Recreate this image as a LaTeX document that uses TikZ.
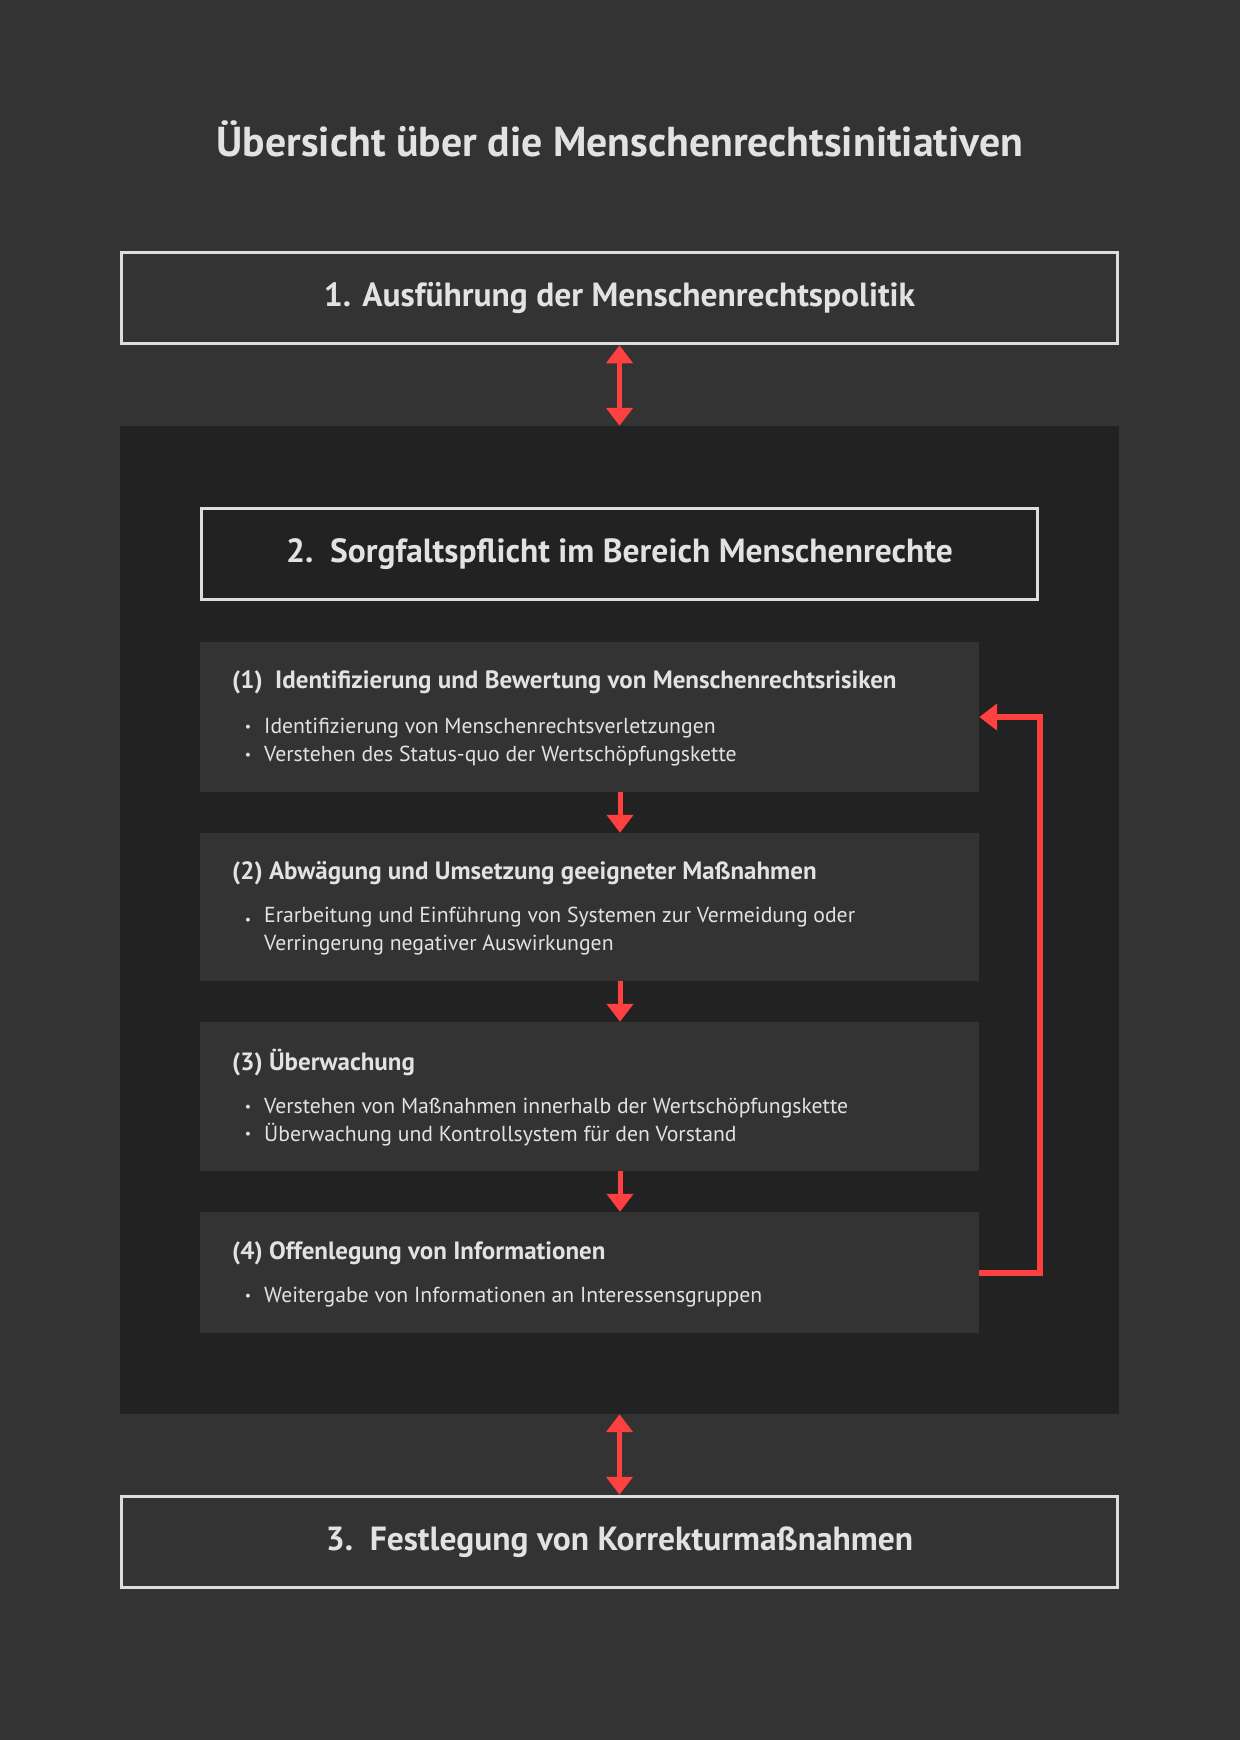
\documentclass[tikz,border=0pt]{standalone}
\usepackage{fontspec}
\setmainfont{PT Sans}
\usetikzlibrary{arrows.meta}
\definecolor{bgc}{HTML}{333333}
\definecolor{panelc}{HTML}{222222}
\definecolor{linec}{HTML}{DDDDDD}
\definecolor{txtc}{HTML}{E2E2E2}
\definecolor{redc}{HTML}{FF4040}
\tikzset{
  framebox/.style={draw=linec, line width=3.5pt, fill=#1, inner sep=0pt},
  stepbox/.style={fill=bgc, inner sep=0pt, minimum width=779pt},
  headtxt/.style={text=txtc, font=\bfseries\fontsize{33.5}{38}\selectfont, inner sep=0pt},
  steptitle/.style={text=txtc, font=\bfseries\fontsize{25}{29}\selectfont, anchor=west, inner sep=0pt},
  bullettxt/.style={text=txtc, font=\fontsize{21.7}{28}\selectfont, anchor=west, inner sep=0pt, align=left},
  bulletdot/.style={text=txtc, font=\fontsize{14}{16}\selectfont, anchor=center, inner sep=0pt},
  redarrow/.style={draw=redc, line width=5pt},
  dtip/.style={-{Triangle[width=26pt,length=18pt]}},
  bitip/.style={{Triangle[width=26pt,length=18pt]}-{Triangle[width=26pt,length=18pt]}}
}
\begin{document}
\begin{tikzpicture}[x=1pt,y=-1pt]
\fill[bgc] (0,0) rectangle (1240,1740);
\useasboundingbox (0,0) rectangle (1240,1740);

\node[text=txtc, font=\bfseries\fontsize{41.8}{48}\selectfont, inner sep=0pt] (title) at (620,139) {Übersicht über die Menschenrechtsinitiativen};

\node[framebox=bgc, minimum width=996pt, minimum height=91pt] (b1) at (619.5,298) {};
\node[headtxt] (b1t) at (b1.center) {1. Ausführung der Menschenrechtspolitik};

\node[fill=panelc, minimum width=999pt, minimum height=988pt, inner sep=0pt] (panel) at (619.5,920) {};

\node[framebox=panelc, minimum width=836pt, minimum height=91pt] (b2) at (619.5,554) {};
\node[headtxt] (b2t) at (b2.center) {2.\enspace Sorgfaltspflicht im Bereich Menschenrechte};

\node[stepbox, minimum height=150pt] (s1) at (589.5,717) {};
\node[stepbox, minimum height=148pt] (s2) at (589.5,907) {};
\node[stepbox, minimum height=149pt] (s3) at (589.5,1096.5) {};
\node[stepbox, minimum height=121pt] (s4) at (589.5,1272.5) {};

\node[framebox=bgc, minimum width=996pt, minimum height=91pt] (b3) at (619.5,1542) {};
\node[headtxt] (b3t) at (b3.center) {3.\enspace Festlegung von Korrekturmaßnahmen};

% step 1
\node[steptitle] (s1h) at (232,682) {(1)\enspace Identifizierung und Bewertung von Menschenrechtsrisiken};
\node[bulletdot] (s1d1) at (248,728) {•};
\node[bullettxt] (s1b1) at (264,728) {Identifizierung von Menschenrechtsverletzungen};
\node[bulletdot] (s1d2) at (248,756) {•};
\node[bullettxt] (s1b2) at (264,756) {Verstehen des Status-quo der Wertschöpfungskette};

% step 2
\node[steptitle] (s2h) at (232,873) {(2) Abwägung und Umsetzung geeigneter Maßnahmen};
\node[bulletdot] (s2d1) at (248,921) {•};
\node[bullettxt, anchor=north west] (s2b1) at (264,907) {Erarbeitung und Einführung von Systemen zur Vermeidung oder\\Verringerung negativer Auswirkungen};

% step 3
\node[steptitle] (s3h) at (232,1063) {(3) Überwachung};
\node[bulletdot] (s3d1) at (248,1108) {•};
\node[bullettxt] (s3b1) at (264,1108) {Verstehen von Maßnahmen innerhalb der Wertschöpfungskette};
\node[bulletdot] (s3d2) at (248,1135) {•};
\node[bullettxt] (s3b2) at (264,1135) {Überwachung und Kontrollsystem für den Vorstand};

% step 4
\node[steptitle] (s4h) at (232,1253) {(4) Offenlegung von Informationen};
\node[bulletdot] (s4d1) at (248,1297) {•};
\node[bullettxt] (s4b1) at (264,1297) {Weitergabe von Informationen an Interessensgruppen};

% connectors
\draw[redarrow, bitip] (b1.south) -- (panel.north);
\draw[redarrow, bitip] (panel.south) -- (b3.north);
\draw[redarrow, dtip] (s1.south -| 620,0) -- (s2.north -| 620,0);
\draw[redarrow, dtip] (s2.south -| 620,0) -- (s3.north -| 620,0);
\draw[redarrow, dtip] (s3.south -| 620,0) -- (s4.north -| 620,0);
\draw[redarrow, line width=6pt, miter limit=10, dtip] (s4.east) -- ++(61,0) |- (s1.east);
\end{tikzpicture}
\end{document}
